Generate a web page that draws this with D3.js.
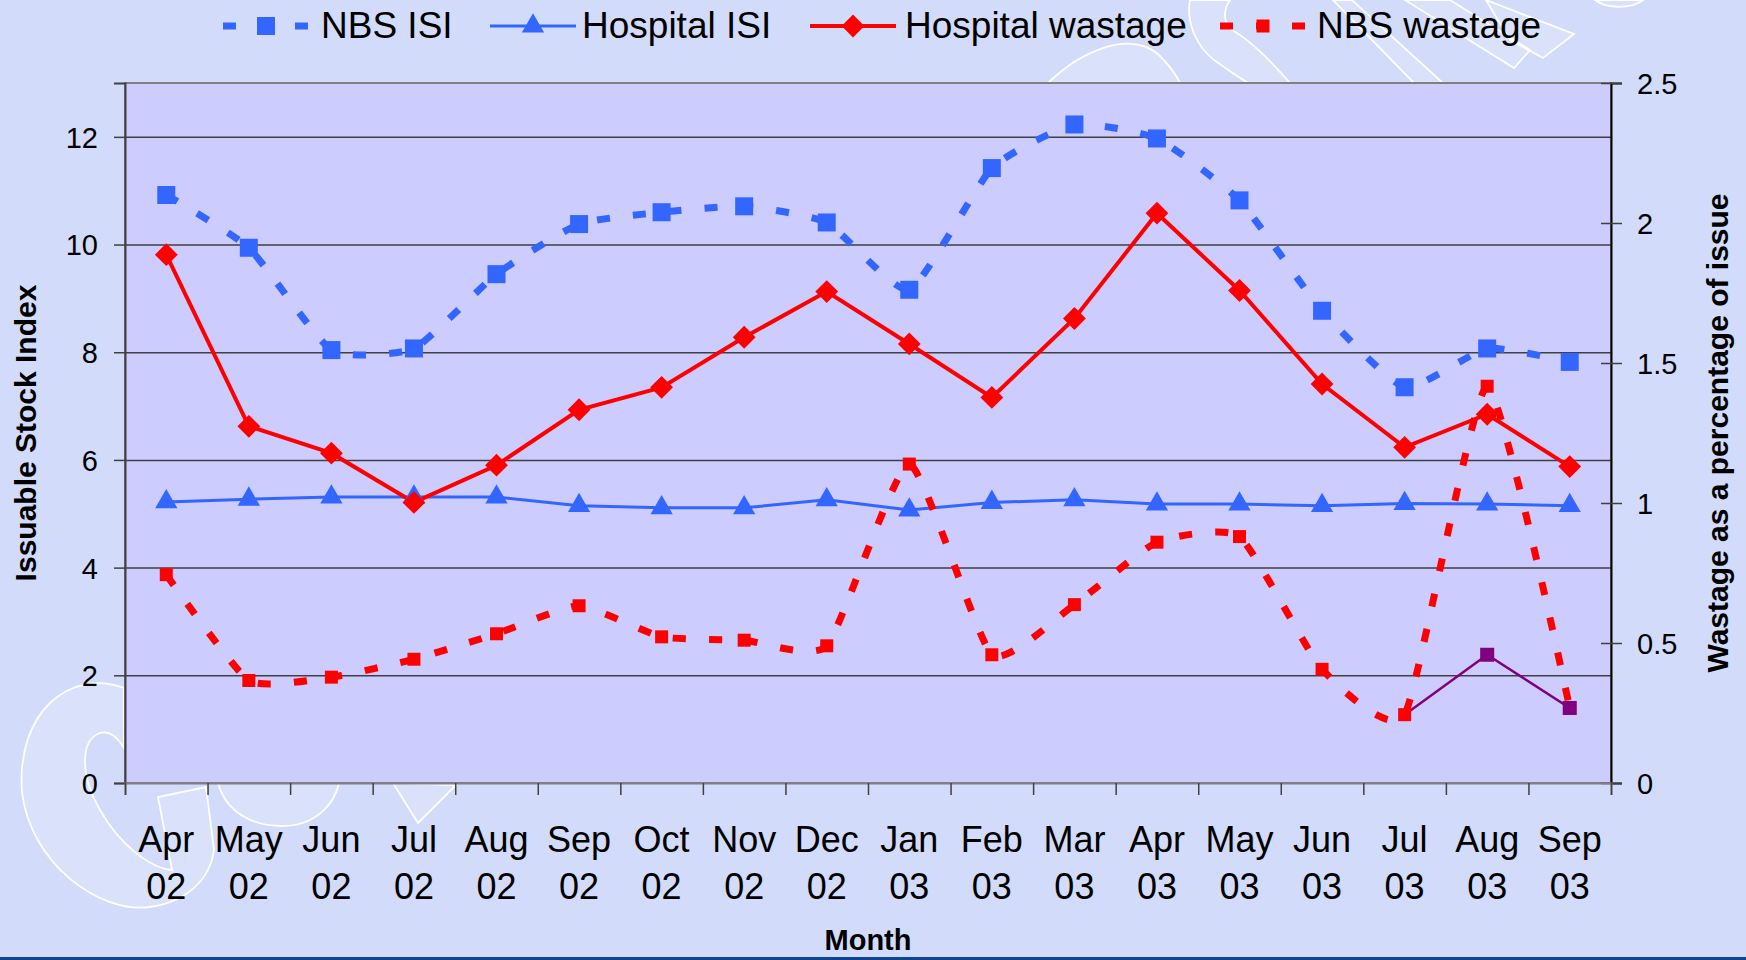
<!DOCTYPE html>
<html>
<head>
<meta charset="utf-8">
<script src="https://cdn.jsdelivr.net/npm/d3@7"></script>
<style>
  body { margin: 0; background: #d2dcfa; overflow: hidden; }
  text { font-family: Arial, "Liberation Sans", sans-serif; fill: #000; }
</style>
</head>
<body>
<div id="chart"></div>
<script>
// chart size
var width = 1746,
    height = 960;
var margin = {top: 83, right: 135, bottom: 177, left: 125};

// data
var months = ["Apr 02", "May 02", "Jun 02", "Jul 02", "Aug 02", "Sep 02", "Oct 02", "Nov 02", "Dec 02",
              "Jan 03", "Feb 03", "Mar 03", "Apr 03", "May 03", "Jun 03", "Jul 03", "Aug 03", "Sep 03"];
var nbsIsi = [10.92, 9.94, 8.04, 8.07, 9.45, 10.38, 10.6, 10.71, 10.41, 9.16, 11.42, 12.23, 11.97, 10.82, 8.77, 7.35, 8.07, 7.82];
var hospitalIsi = [5.22, 5.27, 5.31, 5.31, 5.31, 5.15, 5.11, 5.11, 5.26, 5.07, 5.21, 5.26, 5.18, 5.18, 5.15, 5.19, 5.18, 5.15];
var hospitalWastage = [1.887, 1.274, 1.178, 1.002, 1.135, 1.333, 1.413, 1.592, 1.755, 1.568, 1.377, 1.659, 2.035, 1.759, 1.425, 1.199, 1.317, 1.13];
var nbsWastage = [0.744, 0.366, 0.378, 0.442, 0.533, 0.633, 0.522, 0.51, 0.49, 1.139, 0.458, 0.637, 0.86, 0.88, 0.406, 0.244, 1.417, 0.268];
// unlabelled purple series (only the last three months)
var otherWastage = [null, null, null, null, null, null, null, null, null, null, null, null, null, null, null, 0.244, 0.458, 0.268];

var leftTicks = [0, 2, 4, 6, 8, 10, 12];
var rightTicks = [0, 0.5, 1, 1.5, 2, 2.5];
var legendNames = ["NBS ISI", "Hospital ISI", "Hospital wastage", "NBS wastage"];

var blue = "#3366ff", red = "#ff0000", purple = "#800080";

var svg = d3.select("#chart")
    .append("svg")
    .attr("width", width)
    .attr("height", height);

svg.append("rect")
    .attr("width", width)
    .attr("height", height)
    .attr("fill", "#d2dcfa");

// faint white logo outlines in the background
var deco = svg.append("g")
    .attr("fill", "#ffffff")
    .attr("fill-opacity", 0.18)
    .attr("stroke", "#ffffff")
    .attr("stroke-width", 1.8);
var decoPaths = [
  "M124,688 C70,668 16,712 22,792 C30,862 98,914 150,907 C186,902 210,880 214,850 L206,787 L158,797 L172,870 C150,868 120,845 100,810 C80,775 80,740 100,733 C110,730 118,738 124,748 Z",
  "M218,783 C226,812 252,826 282,826 C314,826 334,806 339,783 Z",
  "M393,783 L418,823 L456,785 Z",
  "M1048,83 C1080,52 1128,30 1158,54 C1168,64 1176,74 1180,83 Z",
  "M1190,0 C1186,22 1196,46 1214,60 C1228,70 1240,78 1248,83 L1290,83 C1270,60 1250,40 1232,30 C1222,22 1224,8 1230,0 Z",
  "M1333,0 L1414,83 L1443,83 L1352,0 Z",
  "M1405,0 L1514,68 L1530,50 L1450,0 Z",
  "M1486,0 L1574,34 L1543,58 L1510,40 Z",
  "M1595,0 C1605,8 1630,10 1643,0 Z"
];
deco.selectAll("path")
    .data(decoPaths)
    .enter()
    .append("path")
    .attr("d", function(d) { return d; });

var plotW = width - margin.left - margin.right,
    plotH = height - margin.top - margin.bottom;

var x = d3.scaleBand()
    .domain(months)
    .range([margin.left, margin.left + plotW]);
var xEdge = d3.scaleLinear()
    .domain([0, months.length])
    .range([margin.left, margin.left + plotW]);
var yLeft = d3.scaleLinear()
    .domain([0, 13])
    .range([margin.top + plotH, margin.top]);
var yRight = d3.scaleLinear()
    .domain([0, 2.5])
    .range([margin.top + plotH, margin.top]);

function cx(i) { return x(months[i]) + x.bandwidth() / 2; }

// plot area
svg.append("rect")
    .attr("x", margin.left)
    .attr("y", margin.top)
    .attr("width", plotW)
    .attr("height", plotH)
    .attr("fill", "#ccccff")
    .attr("stroke", "#808080")
    .attr("stroke-width", 2);

// gridlines
svg.append("g")
    .attr("transform", "translate(" + margin.left + ",0)")
    .call(d3.axisLeft(yLeft).tickValues(leftTicks.slice(1)).tickSize(-plotW).tickFormat(""))
    .call(function(g) { g.select(".domain").remove(); })
    .selectAll(".tick line")
    .attr("stroke", "#404040")
    .attr("stroke-width", 1.5);

// left axis
var leftAxis = svg.append("g")
    .attr("transform", "translate(" + margin.left + ",0)")
    .call(d3.axisLeft(yLeft).tickValues(leftTicks).tickSize(11).tickPadding(16));
leftAxis.select(".domain").attr("stroke", "#404040").attr("stroke-width", 2);
leftAxis.selectAll(".tick line").attr("stroke", "#404040").attr("stroke-width", 1.5);
leftAxis.selectAll("text").style("font-size", "29px").attr("dy", "0.36em");

// right axis
var rightAxis = svg.append("g")
    .attr("transform", "translate(" + (margin.left + plotW) + ",0)")
    .call(d3.axisRight(yRight).tickValues(rightTicks).tickSize(11).tickPadding(15)
      .tickFormat(function(d) { return String(d); }));
rightAxis.select(".domain").attr("stroke", "#000").attr("stroke-width", 2);
rightAxis.selectAll(".tick line").attr("x1", -10).attr("stroke", "#404040").attr("stroke-width", 1.5);
rightAxis.selectAll("text").style("font-size", "29px").attr("dy", "0.36em");

// bottom axis: ticks between categories
var bottomAxis = svg.append("g")
    .attr("transform", "translate(0," + (margin.top + plotH) + ")")
    .call(d3.axisBottom(xEdge).tickValues(d3.range(months.length + 1)).tickSize(12).tickFormat(""));
bottomAxis.select(".domain").attr("stroke", "#808080").attr("stroke-width", 2);
bottomAxis.selectAll(".tick line").attr("stroke", "#404040").attr("stroke-width", 1.5);

// month labels on two lines
var xLabels = svg.append("g")
    .attr("transform", "translate(0," + (margin.top + plotH) + ")")
    .call(d3.axisBottom(x).tickSize(0).tickFormat(""));
xLabels.select(".domain").remove();
xLabels.selectAll(".tick").each(function(d) {
  var parts = d.split(" ");
  var t = d3.select(this).append("text")
      .attr("text-anchor", "middle")
      .style("font-size", "36px");
  t.append("tspan").attr("x", 0).attr("y", 69).text(parts[0]);
  t.append("tspan").attr("x", 0).attr("y", 116).text(parts[1]);
});

// axis titles
svg.append("text")
    .attr("transform", "translate(36," + (margin.top + plotH / 2) + ") rotate(-90)")
    .attr("text-anchor", "middle")
    .style("font-size", "30px")
    .style("font-weight", "bold")
    .text("Issuable Stock Index");

svg.append("text")
    .attr("transform", "translate(1728," + (margin.top + plotH / 2) + ") rotate(-90)")
    .attr("text-anchor", "middle")
    .style("font-size", "30px")
    .style("font-weight", "bold")
    .text("Wastage as a percentage of issue");

svg.append("text")
    .attr("x", margin.left + plotW / 2)
    .attr("y", 950)
    .attr("text-anchor", "middle")
    .style("font-size", "29px")
    .style("font-weight", "bold")
    .text("Month");

// series
var smooth = d3.curveCardinal.tension(0.5);
var series = [
  {values: nbsIsi, y: yLeft, color: blue, width: 7, dash: "13,23", curve: smooth, symbol: d3.symbolSquare, size: 324, rotate: 0},
  {values: hospitalIsi, y: yLeft, color: blue, width: 3, dash: null, curve: d3.curveLinear, symbol: d3.symbolTriangle, size: 215, rotate: 0},
  {values: hospitalWastage, y: yRight, color: red, width: 4, dash: null, curve: d3.curveLinear, symbol: d3.symbolSquare, size: 260, rotate: 45},
  {values: otherWastage, y: yRight, color: purple, width: 2.5, dash: null, curve: d3.curveLinear, symbol: d3.symbolSquare, size: 196, rotate: 0, skipFirst: true},
  {values: nbsWastage, y: yRight, color: red, width: 7, dash: "13,23", curve: smooth, symbol: d3.symbolSquare, size: 169, rotate: 0}
];

var lines = svg.append("g");
series.forEach(function(s) {
  var line = d3.line()
      .defined(function(d) { return d != null; })
      .x(function(d, i) { return cx(i); })
      .y(function(d) { return s.y(d); })
      .curve(s.curve);
  lines.append("path")
      .datum(s.values)
      .attr("d", line)
      .attr("fill", "none")
      .attr("stroke", s.color)
      .attr("stroke-width", s.width)
      .attr("stroke-dasharray", s.dash);
});

// markers drawn after all lines, purple last so it sits on top
var markerOrder = [0, 1, 2, 4, 3];
markerOrder.forEach(function(k) {
  var s = series[k];
  var pts = [];
  var first = s.values.findIndex(function(v) { return v != null; });
  s.values.forEach(function(v, i) {
    if (v == null) return;
    if (s.skipFirst && i === first) return;
    pts.push({i: i, v: v});
  });
  svg.append("g").selectAll("path")
      .data(pts)
      .enter()
      .append("path")
      .attr("d", d3.symbol().type(s.symbol).size(s.size))
      .attr("transform", function(d) {
        return "translate(" + cx(d.i) + "," + s.y(d.v) + ") rotate(" + s.rotate + ")";
      })
      .attr("fill", s.color);
});

// legend
var legendX = [223, 490, 810, 1220];
var legendTextX = [321, 582, 905, 1317];
var legend = svg.append("g");
[0, 1, 2, 4].forEach(function(k, j) {
  var s = series[k];
  var g = legend.append("g");
  g.append("line")
      .attr("x1", legendX[j])
      .attr("x2", legendX[j] + 86)
      .attr("y1", 26)
      .attr("y2", 26)
      .attr("stroke", s.color)
      .attr("stroke-width", s.width)
      .attr("stroke-dasharray", s.dash);
  g.append("path")
      .attr("d", d3.symbol().type(s.symbol).size(s.size))
      .attr("transform", "translate(" + (legendX[j] + 43) + ",26) rotate(" + s.rotate + ")")
      .attr("fill", s.color);
  g.append("text")
      .attr("x", legendTextX[j])
      .attr("y", 38)
      .style("font-size", "37px")
      .text(legendNames[j]);
});

// dark band along the bottom edge
svg.append("rect")
    .attr("x", 0)
    .attr("y", 957)
    .attr("width", width)
    .attr("height", 3)
    .attr("fill", "#0f4290");
</script>
</body>
</html>
